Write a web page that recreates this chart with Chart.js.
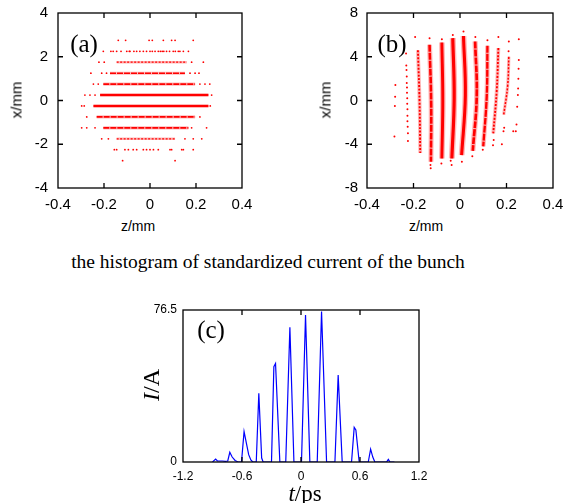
<!DOCTYPE html>
<html><head><meta charset="utf-8">
<script src="https://cdn.jsdelivr.net/npm/chart.js@4.4.1/dist/chart.umd.min.js"></script>
<style>
html,body{margin:0;padding:0;background:#fff;}
#wrap{position:relative;width:563px;height:503px;overflow:hidden;background:#fff;}
canvas{position:absolute;}
.t{position:absolute;white-space:nowrap;color:#000;line-height:1;}
.serif{font-family:"Liberation Serif","Times New Roman",serif;}
.sans{font-family:"Liberation Sans",Arial,sans-serif;}
.c{transform:translate(-50%,-50%);}
.r{transform:translate(-50%,-50%) rotate(-90deg);}
</style></head><body>
<div id="wrap">
<canvas id="ca" width="281" height="215" style="left:0;top:0"></canvas>
<canvas id="cb" width="281" height="215" style="left:282px;top:0"></canvas>
<canvas id="cc" width="300" height="190" style="left:130px;top:295px"></canvas>
<div class="t serif c" style="left:84px;top:43px;font-size:25px">(a)</div>
<div class="t serif c" style="left:392px;top:43px;font-size:25px">(b)</div>
<div class="t serif c" style="left:211px;top:329px;font-size:25px">(c)</div>
<div class="t sans r" style="left:16px;top:100px;font-size:15px">x/mm</div>
<div class="t sans r" style="left:325px;top:100px;font-size:15px">x/mm</div>
<div class="t sans c" style="left:138px;top:226px;font-size:14px">z/mm</div>
<div class="t sans c" style="left:426px;top:226px;font-size:14px">z/mm</div>
<div class="t serif c" style="left:268px;top:262px;font-size:19.5px">the histogram of standardized current of the bunch</div>
<div class="t serif r" style="left:151px;top:385px;font-size:24px"><i>I</i>/A</div>
<div class="t serif c" style="left:305px;top:493px;font-size:23px"><i>t</i>/ps</div>
</div>
<script>
// ---------- Panel (a): horizontal stripes ----------
const aRowX      = [2.75, 2.25, 1.75, 1.25, 0.75, 0.25, -0.25, -0.75, -1.25, -1.75, -2.25, -2.75];
const aCoreFrom  = [null, null, -0.145, -0.174, -0.203, -0.217, -0.246, -0.232, -0.203, -0.145, null, null];
const aCoreTo    = [null, null, 0.160, 0.152, 0.196, 0.254, 0.254, 0.196, 0.167, 0.109, null, null];
const aDensity   = [0, 0, 0.35, 0.6, 0.75, 1, 1, 0.75, 0.65, 0.4, 0, 0];
const aDotZ = [
  -0.138,-0.106,-0.004,0.010,0.058,0.094,0.109,0.188,
  -0.203,-0.170,-0.160,-0.145,-0.126,-0.101,-0.090,-0.087,-0.070,-0.058,-0.044,-0.029,-0.015,0.0,0.010,0.022,0.036,0.045,0.053,0.060,0.072,0.085,0.101,0.110,0.123,0.130,0.145,0.167,
  -0.222,-0.199,0.181,0.232,
  -0.257,-0.210,-0.189,0.174,0.196,0.213,
  -0.246,-0.225,0.217,0.239,0.260,
  -0.283,-0.261,-0.239,0.268,
  -0.297,-0.286,0.262,
  -0.275,0.217,
  -0.297,-0.275,-0.239,0.181,0.246,
  -0.210,-0.181,0.152,0.188,0.225,
  -0.155,-0.145,-0.109,-0.094,-0.073,-0.058,-0.029,-0.015,0.0,0.015,0.036,0.087,0.094,0.138,0.145,0.188,
  -0.119,0.109
];
const aDotX = [
  2.75,2.75,2.75,2.75,2.75,2.75,2.75,2.75,
  2.25,2.25,2.25,2.25,2.25,2.25,2.25,2.25,2.25,2.25,2.25,2.25,2.25,2.25,2.25,2.25,2.25,2.25,2.25,2.25,2.25,2.25,2.25,2.25,2.25,2.25,2.25,2.25,
  1.75,1.75,1.75,1.75,
  1.25,1.25,1.25,1.25,1.25,1.25,
  0.75,0.75,0.75,0.75,0.75,
  0.25,0.25,0.25,0.25,
  -0.25,-0.25,-0.25,
  -0.75,-0.75,
  -1.25,-1.25,-1.25,-1.25,-1.25,
  -1.75,-1.75,-1.75,-1.75,-1.75,
  -2.25,-2.25,-2.25,-2.25,-2.25,-2.25,-2.25,-2.25,-2.25,-2.25,-2.25,-2.25,-2.25,-2.25,-2.25,-2.25,
  -2.75,-2.75
];

// ---------- Panel (b): vertical, slightly bowed stripes ----------
const bZTop    = [-0.181, -0.131, -0.078, -0.031, 0.015, 0.065, 0.118, 0.165, 0.210];
const bZMid    = [-0.174, -0.124, -0.074, -0.025, 0.023, 0.072, 0.115, 0.158, 0.205];
const bZBot    = [-0.171, -0.125, -0.078, -0.035, 0.007, 0.055, 0.100, 0.143, 0.188];
const bXTop    = [4.6, 5.1, 5.3, 5.7, 5.9, 5.4, 5.0, 4.8, 4.0];
const bXBot    = [-4.8, -5.6, -5.3, -5.3, -5.0, -4.6, -4.2, -3.0, -1.3];
const bDensity = [0.45, 0.75, 0.9, 1, 0.95, 0.8, 0.65, 0.45, 0.3];
const bDotZ = [
  -0.278,-0.279,-0.280,-0.282,
  -0.232,-0.231,-0.230,-0.229,-0.229,-0.228,-0.228,-0.227,-0.227,-0.226,-0.226,-0.226,-0.225,-0.224,-0.224,
  -0.193,-0.131,-0.126,-0.127,-0.078,-0.080,-0.031,-0.036,-0.040,0.015,0.008,0.066,0.053,0.118,0.098,
  0.165,0.142,0.145,0.210,0.209,0.190,0.187,
  0.253,0.253,0.252,0.251,0.250,0.249,0.246,0.243,0.240,0.229,0.180
];
const bDotX = [
  1.42,0.35,-0.5,-3.3,
  4.3,3.2,2.8,2.2,1.6,1.2,0.7,0.2,-0.3,-0.8,-1.4,-1.9,-2.4,-3.0,-3.7,
  5.8,5.7,-6.2,-5.9,5.6,-5.75,6.0,-5.9,-5.5,6.3,-5.6,5.8,-5.1,5.5,-4.5,
  5.8,-4.1,-3.6,5.4,4.5,-2.5,-2.8,
  5.6,3.7,2.9,2.0,1.1,0.5,-0.57,-2.2,-2.8,-2.8,-4.0
];

// ---------- Panel (c): current histogram ----------
const cT = [-0.90,-0.868,-0.85,-0.80,-0.77,-0.745,-0.724,-0.70,-0.67,-0.64,
            -0.605,-0.579,-0.555,-0.532,-0.51,-0.49,
            -0.455,-0.429,-0.40,-0.385,
            -0.30,-0.276,-0.259,-0.215,
            -0.155,-0.113,-0.072,
            0.005,0.046,0.09,
            0.165,0.209,0.26,
            0.345,0.378,0.419,
            0.514,0.541,0.558,0.592,
            0.684,0.708,0.73,0.751,
            0.87,0.888,0.905,0.95];
const cI = [0,1.5,0.5,0.5,0.3,0.5,4.9,2.5,0.8,0,
            0,15.3,9.4,3.7,1.0,0,
            0,34.6,2.0,0,
            0,48.0,49.6,0,
            0,67.8,0,
            0,74.0,0,
            0,75.7,0,
            0,43.8,0,
            0,17.4,16.1,0,
            0,6.5,2.5,0,
            0,1.3,0,0];
const cXTicks = [-1.2, -0.6, 0, 0.6, 1.2];
const cYTicks = [0, 76.5];

// ---------- helpers ----------
const RED = 'rgba(255,0,0,1)';
const HALO = 'rgba(255,0,0,0.28)';
const framePlugin = {
  id: 'frame',
  afterDraw(chart, args, opts) {
    const {ctx, chartArea: a, scales: {x, y}} = chart;
    const L = opts.len || 5;
    ctx.save();
    ctx.strokeStyle = '#000';
    ctx.lineWidth = 1.3;
    ctx.beginPath();
    x.ticks.forEach(t => {
      const px = x.getPixelForValue(t.value);
      if (px <= a.left + 1 || px >= a.right - 1) return;
      ctx.moveTo(px, a.bottom); ctx.lineTo(px, a.bottom - L);
      ctx.moveTo(px, a.top); ctx.lineTo(px, a.top + L);
    });
    y.ticks.forEach(t => {
      const py = y.getPixelForValue(t.value);
      if (py <= a.top + 1 || py >= a.bottom - 1) return;
      ctx.moveTo(a.left, py); ctx.lineTo(a.left + L, py);
      ctx.moveTo(a.right, py); ctx.lineTo(a.right - L, py);
    });
    ctx.stroke();
    ctx.strokeRect(a.left, a.top, a.right - a.left, a.bottom - a.top);
    ctx.restore();
  }
};

function axis(min, max, step, fit, size, pad, isX) {
  return {
    type: 'linear', min, max,
    ticks: {stepSize: step, padding: pad, color: '#000', maxRotation: 0, autoSkip: false,
            font: {family: 'Liberation Sans', size}},
    grid: {display: false, drawTicks: false},
    border: {display: false},
    afterFit(s) {
      if (isX) { s.height = fit; s.paddingLeft = 0; s.paddingRight = 0; }
      else { s.width = fit; s.paddingTop = 0; s.paddingBottom = 0; }
    }
  };
}

function baseOptions(pad, xAx, yAx) {
  return {
    responsive: false, animation: false, devicePixelRatio: 1,
    layout: {padding: pad},
    plugins: {legend: {display: false}, tooltip: {enabled: false}, frame: {len: 5}},
    scales: {x: xAx, y: yAx}
  };
}

// ---------- chart (a) ----------
const aSets = [];
aRowX.forEach((xv, i) => {
  if (aCoreFrom[i] === null) return;
  const d = aDensity[i];
  const pts = [{x: aCoreFrom[i], y: xv}, {x: aCoreTo[i], y: xv}];
  aSets.push({data: pts, showLine: true, borderColor: HALO, borderWidth: 1.5 + 2.5 * d, pointRadius: 0});
  aSets.push({
    data: pts, showLine: true, borderColor: RED, borderWidth: 0.8 + 1.2 * d,
    borderDash: d < 0.5 ? [2, 1.5] : (d < 0.9 ? [6, 1] : []), pointRadius: 0
  });
});
aSets.push({
  data: aDotZ.map((z, i) => ({x: z, y: aDotX[i]})),
  pointRadius: 0.9, pointBackgroundColor: RED, pointBorderWidth: 0, showLine: false
});
new Chart(document.getElementById('ca'), {
  type: 'scatter',
  data: {datasets: aSets},
  options: baseOptions({top: 13, right: 39, left: 0, bottom: 0},
    axis(-0.4, 0.4, 0.2, 27, 15, 8, true),
    axis(-4, 4, 2, 58, 15, 10, false)),
  plugins: [framePlugin]
});

// ---------- chart (b) ----------
const bSets = [];
bZTop.forEach((zt, i) => {
  const d = bDensity[i];
  const pts = [{x: zt, y: bXTop[i]}, {x: bZMid[i], y: (bXTop[i] + bXBot[i]) / 2}, {x: bZBot[i], y: bXBot[i]}];
  bSets.push({data: pts, showLine: true, borderColor: HALO, borderWidth: 2 + 4 * d, pointRadius: 0, tension: 0.4});
  bSets.push({
    data: pts, showLine: true, borderColor: RED, borderWidth: 0.8 + 2.4 * d, pointRadius: 0, tension: 0.4,
    borderDash: d < 0.5 ? [2, 1.5] : (d < 0.85 ? [7, 1] : [])
  });
});
bSets.push({
  data: bDotZ.map((z, i) => ({x: z, y: bDotX[i]})),
  pointRadius: 1, pointBackgroundColor: RED, pointBorderWidth: 0, showLine: false
});
new Chart(document.getElementById('cb'), {
  type: 'scatter',
  data: {datasets: bSets},
  options: baseOptions({top: 13, right: 10, left: 0, bottom: 0},
    axis(-0.4, 0.4, 0.2, 27, 15, 8, true),
    axis(-8, 8, 4, 85, 15, 9, false)),
  plugins: [framePlugin]
});

// ---------- chart (c) ----------
const cx = axis(-1.2, 1.2, 0.6, 23, 12, 7, true);
cx.afterBuildTicks = s => { s.ticks = cXTicks.map(v => ({value: v})); };
const cy = axis(0, 76.5, 76.5, 53, 12, 6, false);
cy.afterBuildTicks = s => { s.ticks = cYTicks.map(v => ({value: v})); };
new Chart(document.getElementById('cc'), {
  type: 'scatter',
  data: {datasets: [{
    data: cT.map((t, i) => ({x: t, y: cI[i]})),
    showLine: true, borderColor: '#0000ff', borderWidth: 1.2, pointRadius: 0, tension: 0
  }]},
  options: baseOptions({top: 15, right: 11, left: 0, bottom: 0}, cx, cy),
  plugins: [framePlugin]
});
</script>
</body></html>
